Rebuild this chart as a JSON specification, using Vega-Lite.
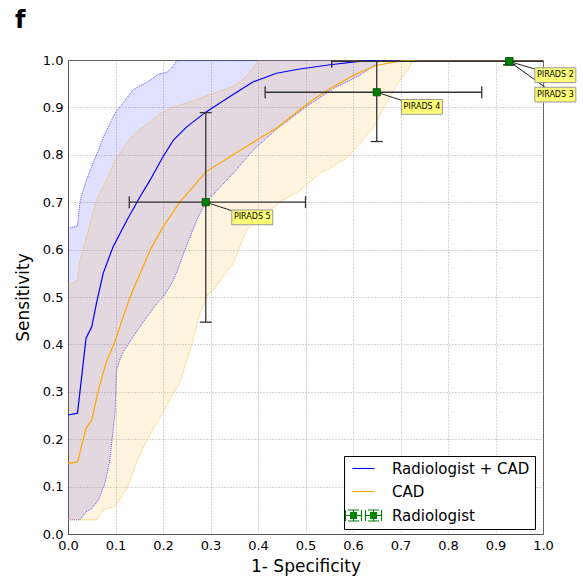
{
  "$schema": "https://vega.github.io/schema/vega-lite/v6.json",
  "width": 475,
  "height": 474,
  "autosize": "none",
  "padding": {"left": 68, "top": 60, "right": 40, "bottom": 48},
  "background": "white",
  "title": {"text": "f", "anchor": "start", "frame": "group", "dx": -53, "dy": 33, "offset": 30, "baseline": "bottom", "fontSize": 24, "fontWeight": "bold", "font": "DejaVu Sans", "color": "black"},
  "config": {
    "font": "DejaVu Sans",
    "view": {"stroke": "#555", "strokeWidth": 1},
    "axis": {
      "domainColor": "#555",
      "grid": true,
      "gridColor": "#999",
      "gridDash": [1, 2],
      "gridWidth": 0.8,
      "ticks": false,
      "labelFont": "DejaVu Sans",
      "labelFontSize": 13,
      "labelColor": "black",
      "labelFlush": false,
      "titleFont": "DejaVu Sans",
      "titleFontSize": 17,
      "titleFontWeight": "normal",
      "titleColor": "black"
    }
  },
  "datasets": {
    "curves": [
      {"series": "Radiologist + CAD", "fpr": 0, "tpr": 0.251},
      {"series": "Radiologist + CAD", "fpr": 0.02, "tpr": 0.255},
      {"series": "Radiologist + CAD", "fpr": 0.038, "tpr": 0.413},
      {"series": "Radiologist + CAD", "fpr": 0.05, "tpr": 0.437},
      {"series": "Radiologist + CAD", "fpr": 0.06, "tpr": 0.487},
      {"series": "Radiologist + CAD", "fpr": 0.074, "tpr": 0.55},
      {"series": "Radiologist + CAD", "fpr": 0.095, "tpr": 0.606},
      {"series": "Radiologist + CAD", "fpr": 0.124, "tpr": 0.662},
      {"series": "Radiologist + CAD", "fpr": 0.152, "tpr": 0.712},
      {"series": "Radiologist + CAD", "fpr": 0.173, "tpr": 0.747},
      {"series": "Radiologist + CAD", "fpr": 0.2, "tpr": 0.796},
      {"series": "Radiologist + CAD", "fpr": 0.222, "tpr": 0.831},
      {"series": "Radiologist + CAD", "fpr": 0.25, "tpr": 0.859},
      {"series": "Radiologist + CAD", "fpr": 0.29, "tpr": 0.89},
      {"series": "Radiologist + CAD", "fpr": 0.341, "tpr": 0.923},
      {"series": "Radiologist + CAD", "fpr": 0.39, "tpr": 0.954},
      {"series": "Radiologist + CAD", "fpr": 0.439, "tpr": 0.972},
      {"series": "Radiologist + CAD", "fpr": 0.488, "tpr": 0.981},
      {"series": "Radiologist + CAD", "fpr": 0.552, "tpr": 0.99},
      {"series": "Radiologist + CAD", "fpr": 0.622, "tpr": 0.998},
      {"series": "Radiologist + CAD", "fpr": 0.66, "tpr": 1.0},
      {"series": "Radiologist + CAD", "fpr": 1.0, "tpr": 1.0},
      {"series": "CAD", "fpr": 0, "tpr": 0.149},
      {"series": "CAD", "fpr": 0.02, "tpr": 0.152},
      {"series": "CAD", "fpr": 0.038, "tpr": 0.223},
      {"series": "CAD", "fpr": 0.05, "tpr": 0.24},
      {"series": "CAD", "fpr": 0.064, "tpr": 0.304},
      {"series": "CAD", "fpr": 0.081, "tpr": 0.364},
      {"series": "CAD", "fpr": 0.099, "tpr": 0.406},
      {"series": "CAD", "fpr": 0.116, "tpr": 0.458},
      {"series": "CAD", "fpr": 0.134, "tpr": 0.508},
      {"series": "CAD", "fpr": 0.152, "tpr": 0.55},
      {"series": "CAD", "fpr": 0.173, "tpr": 0.599},
      {"series": "CAD", "fpr": 0.2, "tpr": 0.648},
      {"series": "CAD", "fpr": 0.236, "tpr": 0.701},
      {"series": "CAD", "fpr": 0.264, "tpr": 0.733},
      {"series": "CAD", "fpr": 0.29, "tpr": 0.764},
      {"series": "CAD", "fpr": 0.348, "tpr": 0.8},
      {"series": "CAD", "fpr": 0.397, "tpr": 0.831},
      {"series": "CAD", "fpr": 0.439, "tpr": 0.856},
      {"series": "CAD", "fpr": 0.488, "tpr": 0.895},
      {"series": "CAD", "fpr": 0.516, "tpr": 0.916},
      {"series": "CAD", "fpr": 0.552, "tpr": 0.94},
      {"series": "CAD", "fpr": 0.601, "tpr": 0.968},
      {"series": "CAD", "fpr": 0.65, "tpr": 0.989},
      {"series": "CAD", "fpr": 0.706, "tpr": 0.999},
      {"series": "CAD", "fpr": 0.75, "tpr": 1.0},
      {"series": "CAD", "fpr": 1.0, "tpr": 1.0}
    ],
    "bands": [
      {"series": "Radiologist + CAD", "fpr": 0, "lo": 0.03, "hi": 0.645},
      {"series": "Radiologist + CAD", "fpr": 0.02, "lo": 0.03, "hi": 0.65},
      {"series": "Radiologist + CAD", "fpr": 0.025, "lo": 0.03, "hi": 0.7},
      {"series": "Radiologist + CAD", "fpr": 0.038, "lo": 0.047, "hi": 0.745},
      {"series": "Radiologist + CAD", "fpr": 0.05, "lo": 0.054, "hi": 0.775},
      {"series": "Radiologist + CAD", "fpr": 0.064, "lo": 0.072, "hi": 0.81},
      {"series": "Radiologist + CAD", "fpr": 0.078, "lo": 0.107, "hi": 0.845},
      {"series": "Radiologist + CAD", "fpr": 0.088, "lo": 0.156, "hi": 0.865},
      {"series": "Radiologist + CAD", "fpr": 0.099, "lo": 0.255, "hi": 0.888},
      {"series": "Radiologist + CAD", "fpr": 0.102, "lo": 0.346, "hi": 0.892},
      {"series": "Radiologist + CAD", "fpr": 0.113, "lo": 0.378, "hi": 0.906},
      {"series": "Radiologist + CAD", "fpr": 0.12, "lo": 0.39, "hi": 0.915},
      {"series": "Radiologist + CAD", "fpr": 0.137, "lo": 0.416, "hi": 0.937},
      {"series": "Radiologist + CAD", "fpr": 0.15, "lo": 0.435, "hi": 0.945},
      {"series": "Radiologist + CAD", "fpr": 0.166, "lo": 0.458, "hi": 0.953},
      {"series": "Radiologist + CAD", "fpr": 0.19, "lo": 0.49, "hi": 0.97},
      {"series": "Radiologist + CAD", "fpr": 0.2, "lo": 0.5, "hi": 0.972},
      {"series": "Radiologist + CAD", "fpr": 0.21, "lo": 0.515, "hi": 0.975},
      {"series": "Radiologist + CAD", "fpr": 0.222, "lo": 0.536, "hi": 0.988},
      {"series": "Radiologist + CAD", "fpr": 0.23, "lo": 0.555, "hi": 1.0},
      {"series": "Radiologist + CAD", "fpr": 0.246, "lo": 0.599, "hi": 1.0},
      {"series": "Radiologist + CAD", "fpr": 0.271, "lo": 0.662, "hi": 1.0},
      {"series": "Radiologist + CAD", "fpr": 0.29, "lo": 0.7, "hi": 1.0},
      {"series": "Radiologist + CAD", "fpr": 0.348, "lo": 0.761, "hi": 1.0},
      {"series": "Radiologist + CAD", "fpr": 0.39, "lo": 0.81, "hi": 1.0},
      {"series": "Radiologist + CAD", "fpr": 0.44, "lo": 0.855, "hi": 1.0},
      {"series": "Radiologist + CAD", "fpr": 0.5, "lo": 0.9, "hi": 1.0},
      {"series": "Radiologist + CAD", "fpr": 0.559, "lo": 0.94, "hi": 1.0},
      {"series": "Radiologist + CAD", "fpr": 0.615, "lo": 0.968, "hi": 1.0},
      {"series": "Radiologist + CAD", "fpr": 0.657, "lo": 0.998, "hi": 1.0},
      {"series": "Radiologist + CAD", "fpr": 0.67, "lo": 1.0, "hi": 1.0},
      {"series": "Radiologist + CAD", "fpr": 1.0, "lo": 1.0, "hi": 1.0},
      {"series": "CAD", "fpr": 0, "lo": 0.03, "hi": 0.525},
      {"series": "CAD", "fpr": 0.02, "lo": 0.03, "hi": 0.535},
      {"series": "CAD", "fpr": 0.025, "lo": 0.03, "hi": 0.578},
      {"series": "CAD", "fpr": 0.041, "lo": 0.03, "hi": 0.634},
      {"series": "CAD", "fpr": 0.06, "lo": 0.03, "hi": 0.705},
      {"series": "CAD", "fpr": 0.074, "lo": 0.05, "hi": 0.733},
      {"series": "CAD", "fpr": 0.081, "lo": 0.053, "hi": 0.747},
      {"series": "CAD", "fpr": 0.099, "lo": 0.058, "hi": 0.789},
      {"series": "CAD", "fpr": 0.124, "lo": 0.096, "hi": 0.825},
      {"series": "CAD", "fpr": 0.137, "lo": 0.13, "hi": 0.842},
      {"series": "CAD", "fpr": 0.145, "lo": 0.153, "hi": 0.849},
      {"series": "CAD", "fpr": 0.166, "lo": 0.198, "hi": 0.864},
      {"series": "CAD", "fpr": 0.17, "lo": 0.204, "hi": 0.867},
      {"series": "CAD", "fpr": 0.194, "lo": 0.247, "hi": 0.887},
      {"series": "CAD", "fpr": 0.222, "lo": 0.297, "hi": 0.9},
      {"series": "CAD", "fpr": 0.236, "lo": 0.32, "hi": 0.905},
      {"series": "CAD", "fpr": 0.257, "lo": 0.388, "hi": 0.912},
      {"series": "CAD", "fpr": 0.278, "lo": 0.466, "hi": 0.919},
      {"series": "CAD", "fpr": 0.295, "lo": 0.505, "hi": 0.926},
      {"series": "CAD", "fpr": 0.306, "lo": 0.515, "hi": 0.93},
      {"series": "CAD", "fpr": 0.348, "lo": 0.571, "hi": 0.944},
      {"series": "CAD", "fpr": 0.376, "lo": 0.641, "hi": 0.965},
      {"series": "CAD", "fpr": 0.397, "lo": 0.66, "hi": 0.993},
      {"series": "CAD", "fpr": 0.4, "lo": 0.663, "hi": 1.0},
      {"series": "CAD", "fpr": 0.418, "lo": 0.677, "hi": 1.0},
      {"series": "CAD", "fpr": 0.446, "lo": 0.7, "hi": 1.0},
      {"series": "CAD", "fpr": 0.488, "lo": 0.725, "hi": 1.0},
      {"series": "CAD", "fpr": 0.531, "lo": 0.761, "hi": 1.0},
      {"series": "CAD", "fpr": 0.587, "lo": 0.793, "hi": 1.0},
      {"series": "CAD", "fpr": 0.615, "lo": 0.824, "hi": 1.0},
      {"series": "CAD", "fpr": 0.643, "lo": 0.859, "hi": 1.0},
      {"series": "CAD", "fpr": 0.678, "lo": 0.923, "hi": 1.0},
      {"series": "CAD", "fpr": 0.699, "lo": 0.958, "hi": 1.0},
      {"series": "CAD", "fpr": 0.72, "lo": 0.986, "hi": 1.0},
      {"series": "CAD", "fpr": 0.727, "lo": 1.0, "hi": 1.0},
      {"series": "CAD", "fpr": 1.0, "lo": 1.0, "hi": 1.0}
    ],
    "readers": [
      {"series": "Radiologist", "label": "PIRADS 5", "fpr": 0.29, "tpr": 0.70, "fpr_lo": 0.129, "fpr_hi": 0.50, "tpr_lo": 0.447, "tpr_hi": 0.889, "lx": 0.388, "ly": 0.668},
      {"series": "Radiologist", "label": "PIRADS 4", "fpr": 0.65, "tpr": 0.932, "fpr_lo": 0.415, "fpr_hi": 0.871, "tpr_lo": 0.828, "tpr_hi": 1.04, "lx": 0.745, "ly": 0.901},
      {"series": "Radiologist", "label": "PIRADS 3", "fpr": 0.929, "tpr": 0.997, "fpr_lo": 0.555, "fpr_hi": 1.3, "tpr_lo": 0.99, "tpr_hi": 1.004, "lx": 1.026, "ly": 0.927},
      {"series": "Radiologist", "label": "PIRADS 2", "fpr": 0.929, "tpr": 0.997, "fpr_lo": 0.555, "fpr_hi": 1.3, "tpr_lo": 0.99, "tpr_hi": 1.004, "lx": 1.026, "ly": 0.968}
    ]
  },
  "encoding": {
    "x": {"type": "quantitative", "scale": {"domain": [0, 1], "nice": false, "zero": false}},
    "y": {"type": "quantitative", "scale": {"domain": [0, 1], "nice": false, "zero": false}}
  },
  "layer": [
    {
      "data": {"name": "bands"},
      "transform": [{"filter": "datum.series === 'Radiologist + CAD'"}],
      "mark": {"type": "area", "color": "#0000ff", "opacity": 0.12, "clip": true},
      "encoding": {
        "x": {"field": "fpr", "type": "quantitative", "axis": {"values": [0, 0.1, 0.2, 0.3, 0.4, 0.5, 0.6, 0.7, 0.8, 0.9, 1.0], "format": ".1f", "title": "1- Specificity", "labelPadding": 5, "titlePadding": 6}},
        "y": {"field": "lo", "type": "quantitative", "axis": {"values": [0, 0.1, 0.2, 0.3, 0.4, 0.5, 0.6, 0.7, 0.8, 0.9, 1.0], "format": ".1f", "title": "Sensitivity", "labelPadding": 5, "titlePadding": 10}},
        "y2": {"field": "hi"}
      }
    },
    {
      "data": {"name": "bands"},
      "transform": [{"filter": "datum.series === 'CAD'"}],
      "mark": {"type": "area", "color": "#ffa500", "opacity": 0.12, "clip": true},
      "encoding": {
        "x": {"field": "fpr", "type": "quantitative"},
        "y": {"field": "lo", "type": "quantitative"},
        "y2": {"field": "hi"}
      }
    },
    {
      "data": {"name": "bands"},
      "transform": [{"filter": "datum.series === 'Radiologist + CAD'"}, {"fold": ["lo", "hi"], "as": ["edge", "val"]}],
      "mark": {"type": "line", "color": "#0000ff", "strokeWidth": 0.8, "strokeDash": [1, 1], "opacity": 0.8, "clip": true},
      "encoding": {
        "x": {"field": "fpr", "type": "quantitative"},
        "y": {"field": "val", "type": "quantitative"},
        "detail": {"field": "edge"}
      }
    },
    {
      "data": {"name": "bands"},
      "transform": [{"filter": "datum.series === 'CAD'"}, {"fold": ["lo", "hi"], "as": ["edge", "val"]}],
      "mark": {"type": "line", "color": "#ffa500", "strokeWidth": 0.8, "strokeDash": [1, 1], "opacity": 0.8, "clip": true},
      "encoding": {
        "x": {"field": "fpr", "type": "quantitative"},
        "y": {"field": "val", "type": "quantitative"},
        "detail": {"field": "edge"}
      }
    },
    {
      "data": {"name": "curves"},
      "mark": {"type": "line", "strokeWidth": 1.2, "clip": true},
      "encoding": {
        "x": {"field": "fpr", "type": "quantitative"},
        "y": {"field": "tpr", "type": "quantitative"},
        "color": {
          "field": "series", "type": "nominal",
          "scale": {"domain": ["Radiologist + CAD", "CAD", "Radiologist"], "range": ["#0000ff", "#ffa500", "#008000"]},
          "legend": {
            "title": null,
            "orient": "none",
            "legendX": 276,
            "legendY": 396,
            "direction": "vertical",
            "padding": 5,
            "strokeColor": "black",
            "fillColor": "white",
            "cornerRadius": 0,
            "labelFont": "DejaVu Sans",
            "labelFontSize": 15,
            "labelColor": "black",
            "labelLimit": 300,
            "labelOffset": 21,
            "rowPadding": 7,
            "symbolSize": 100,
            "symbolOffset": 7,
            "symbolType": "stroke",
            "encode": {
              "symbols": {
                "update": {
                  "shape": {"signal": "datum.value === 'Radiologist' ? 'M-3.6,0H-0.4M-3.6,-1.1V1.1M-0.4,-1.1V1.1M-2,-1.1V1.1M-3.1,-1.1H-0.9M-3.1,1.1H-0.9M-2.6,-0.6H-1.4V0.6H-2.6ZM0.4,0H3.6M0.4,-1.1V1.1M3.6,-1.1V1.1M2,-1.1V1.1M0.9,-1.1H3.1M0.9,1.1H3.1M1.4,-0.6H2.6V0.6H1.4Z' : 'M-2.2,0H2.2'"},
                  "fill": {"signal": "datum.value === 'Radiologist' ? '#008000' : 'transparent'"},
                  "stroke": {"signal": "datum.value === 'Radiologist' ? '#222' : (datum.value === 'CAD' ? '#ffa500' : '#0000ff')"},
                  "strokeWidth": {"value": 1.1},
                  "opacity": {"value": 1}
                }
              }
            }
          }
        }
      }
    },
    {
      "data": {"name": "readers"},
      "mark": {"type": "rule", "color": "#333", "strokeWidth": 1.3, "clip": true},
      "encoding": {
        "x": {"field": "fpr_lo", "type": "quantitative"},
        "x2": {"field": "fpr_hi"},
        "y": {"field": "tpr", "type": "quantitative"}
      }
    },
    {
      "data": {"name": "readers"},
      "mark": {"type": "rule", "color": "#333", "strokeWidth": 1.3, "clip": true},
      "encoding": {
        "x": {"field": "fpr", "type": "quantitative"},
        "y": {"field": "tpr_lo", "type": "quantitative"},
        "y2": {"field": "tpr_hi"}
      }
    },
    {
      "data": {"name": "readers"},
      "transform": [{"fold": ["fpr_lo", "fpr_hi"], "as": ["end", "xe"]}],
      "mark": {"type": "point", "shape": "M0,-1V1", "size": 144, "stroke": "#333", "strokeWidth": 1.3, "opacity": 1, "clip": true},
      "encoding": {
        "x": {"field": "xe", "type": "quantitative"},
        "y": {"field": "tpr", "type": "quantitative"}
      }
    },
    {
      "data": {"name": "readers"},
      "transform": [{"fold": ["tpr_lo", "tpr_hi"], "as": ["end", "ye"]}],
      "mark": {"type": "point", "shape": "M-1,0H1", "size": 144, "stroke": "#333", "strokeWidth": 1.3, "opacity": 1, "clip": true},
      "encoding": {
        "x": {"field": "fpr", "type": "quantitative"},
        "y": {"field": "ye", "type": "quantitative"}
      }
    },
    {
      "data": {"name": "readers"},
      "mark": {"type": "rule", "color": "#222", "strokeWidth": 1},
      "encoding": {
        "x": {"field": "fpr", "type": "quantitative"},
        "y": {"field": "tpr", "type": "quantitative"},
        "x2": {"field": "lx"},
        "y2": {"field": "ly"}
      }
    },
    {
      "data": {"name": "readers"},
      "mark": {"type": "point", "shape": "square", "size": 55, "filled": true, "fill": "#008000", "stroke": "#0a3a0a", "strokeWidth": 0.6, "opacity": 1},
      "encoding": {
        "x": {"field": "fpr", "type": "quantitative"},
        "y": {"field": "tpr", "type": "quantitative"}
      }
    },
    {
      "data": {"name": "readers"},
      "mark": {"type": "point", "shape": "M-1,-0.36H1V0.36H-1Z", "size": 1681, "filled": true, "fill": "#ffff77", "stroke": "#999", "strokeWidth": 1, "opacity": 1},
      "encoding": {
        "x": {"field": "lx", "type": "quantitative"},
        "y": {"field": "ly", "type": "quantitative"}
      }
    },
    {
      "data": {"name": "readers"},
      "mark": {"type": "text", "font": "DejaVu Sans", "fontSize": 8, "color": "black", "align": "center", "baseline": "middle"},
      "encoding": {
        "x": {"field": "lx", "type": "quantitative"},
        "y": {"field": "ly", "type": "quantitative"},
        "text": {"field": "label"}
      }
    }
  ]
}
